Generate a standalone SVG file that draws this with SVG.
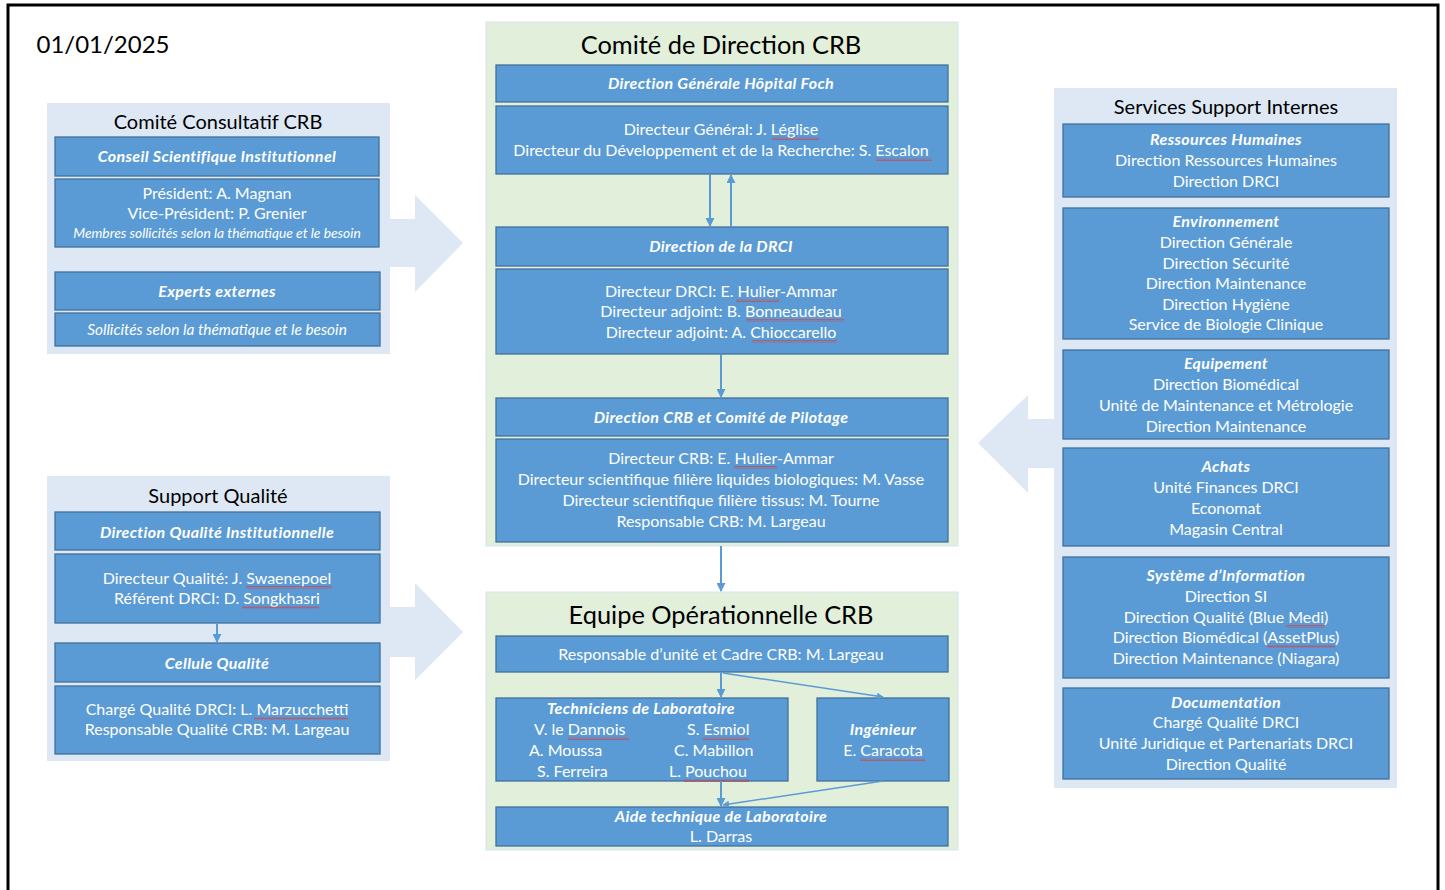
<svg xmlns="http://www.w3.org/2000/svg" width="1445" height="890" viewBox="0 0 1445 890">
<defs>
<style>
.frame{fill:none;stroke:#000;stroke-width:3}
.pb{fill:#DEE8F4}
.pg{fill:#E2EFDA;stroke:#D5E4F0;stroke-width:1}
.bigarrow{fill:#DEE8F4}
.box{fill:#5B9BD5;stroke:#41719C;stroke-width:1.3}
text{font-family:Lato,"Liberation Sans",sans-serif;text-anchor:middle}
.t{fill:#fff;font-size:16px}
.h{fill:#fff;font-size:16px;font-weight:bold;font-style:italic;letter-spacing:0.35px}
.i{fill:#fff;font-style:italic}
.ti{fill:#000;font-size:20px}
.tb{fill:#000;font-size:25.4px}
.s{text-anchor:start}
.c{stroke:#5B9BD5;stroke-width:2;fill:none}
.w{fill:url(#wavy)}
</style>
<marker id="ah" viewBox="0 0 10 10" refX="9" refY="5" markerWidth="4.5" markerHeight="4.5" orient="auto"><path d="M0,0 L10,5 L0,10 z" fill="#5B9BD5"/></marker>
<pattern id="wavy" width="4" height="3" patternUnits="userSpaceOnUse"><path d="M0,2.5 L1,0.5 L2,2.5 L3,0.5 L4,2.5" stroke="#D83A3A" fill="none" stroke-width="0.6"/></pattern>
</defs>
<rect x="8" y="5" width="1430" height="900" fill="#fff" class="frame"/>
<text x="103" y="53" style="font-size:24px;fill:#000">01/01/2025</text>

<g id="arrows-big">
<polygon class="bigarrow" points="385,219 415,219 415,195 463,243 415,292 415,267 385,267"/>
<polygon class="bigarrow" points="385,607 415,607 415,583 463,632 415,680 415,657 385,657"/>
<polygon class="bigarrow" points="1058,419 1028,419 1028,395 978,443 1028,493 1028,468 1058,468"/>
</g>

<g id="comite-consultatif">
<rect class="pb" x="47" y="103" width="343" height="251"/>
<text class="ti" x="218" y="129">Comité Consultatif CRB</text>
<rect class="box" x="55" y="137" width="324" height="39"/>
<text class="h" x="217" y="162">Conseil Scientifique Institutionnel</text>
<rect class="box" x="55" y="179" width="324" height="68"/>
<text class="t" x="217" y="199">Président: A. Magnan</text>
<text class="t" x="217" y="219">Vice-Président: P. Grenier</text>
<text class="i" x="217" y="238" style="font-size:13.8px">Membres sollicités selon la thématique et le besoin</text>
<rect class="box" x="55" y="272" width="325" height="38"/>
<text class="h" x="217" y="297">Experts externes</text>
<rect class="box" x="55" y="313" width="325" height="33"/>
<text class="i" x="217" y="335" style="font-size:15.4px">Sollicités selon la thématique et le besoin</text>
</g>

<g id="support-qualite">
<rect class="pb" x="47" y="476" width="343" height="285"/>
<text class="ti" x="218" y="503">Support Qualité</text>
<rect class="box" x="55" y="512" width="325" height="38"/>
<text class="h" x="217" y="538">Direction Qualité Institutionnelle</text>
<rect class="box" x="55" y="554" width="325" height="69"/>
<text class="t" x="217" y="584">Directeur Qualité: J. Swaenepoel</text>
<text class="t" x="217" y="604">Référent DRCI: D. Songkhasri</text>
<rect class="box" x="55" y="643" width="325" height="39"/>
<text class="h" x="217" y="669">Cellule Qualité</text>
<rect class="box" x="55" y="686" width="325" height="68"/>
<text class="t" x="217" y="715">Chargé Qualité DRCI: L. Marzucchetti</text>
<text class="t" x="217" y="735">Responsable Qualité CRB: M. Largeau</text>
<rect class="w" x="246" y="586" width="86" height="3"/>
<rect class="w" x="242" y="606" width="77" height="3"/>
<rect class="w" x="254" y="717" width="94" height="3"/>
</g>

<g id="comite-direction">
<rect class="pg" x="486" y="22" width="472" height="524"/>
<text class="tb" x="721" y="54">Comité de Direction CRB</text>
<rect class="box" x="496" y="65" width="452" height="37"/>
<text class="h" x="721" y="89">Direction Générale Hôpital Foch</text>
<rect class="box" x="496" y="106" width="452" height="68"/>
<text class="t" x="721" y="135">Directeur Général: J. Léglise</text>
<text class="t" x="721" y="156">Directeur du Développement et de la Recherche: S. Escalon</text>
<rect class="box" x="496" y="227" width="452" height="39"/>
<text class="h" x="721" y="252">Direction de la DRCI</text>
<rect class="box" x="496" y="269" width="452" height="85"/>
<text class="t" x="721" y="297">Directeur DRCI: E. Hulier-Ammar</text>
<text class="t" x="721" y="317">Directeur adjoint: B. Bonneaudeau</text>
<text class="t" x="721" y="338">Directeur adjoint: A. Chioccarello</text>
<rect class="box" x="496" y="398" width="452" height="38"/>
<text class="h" x="721" y="423">Direction CRB et Comité de Pilotage</text>
<rect class="box" x="496" y="439" width="452" height="103"/>
<text class="t" x="721" y="464">Directeur CRB: E. Hulier-Ammar</text>
<text class="t" x="721" y="485">Directeur scientifique filière liquides biologiques: M. Vasse</text>
<text class="t" x="721" y="506">Directeur scientifique filière tissus: M. Tourne</text>
<text class="t" x="721" y="527">Responsable CRB: M. Largeau</text>
<rect class="w" x="772" y="137" width="47" height="3"/>
<rect class="w" x="876" y="158" width="56" height="3"/>
<rect class="w" x="736" y="299" width="43" height="3"/>
<rect class="w" x="746" y="319" width="98" height="3"/>
<rect class="w" x="752" y="340" width="85" height="3"/>
<rect class="w" x="734" y="466" width="43" height="3"/>
</g>

<g id="equipe-operationnelle">
<rect class="pg" x="486" y="592" width="472" height="258"/>
<text class="tb" x="721" y="624">Equipe Opérationnelle CRB</text>
<rect class="box" x="496" y="636" width="452" height="36"/>
<text class="t" x="721" y="660">Responsable d’unité et Cadre CRB: M. Largeau</text>
<rect class="box" x="496" y="698" width="292" height="83"/>
<text class="h" x="641" y="714">Techniciens de Laboratoire</text>
<text class="t s" x="534" y="735">V. le Dannois</text>
<text class="t s" x="529" y="756">A. Moussa</text>
<text class="t s" x="537" y="777">S. Ferreira</text>
<text class="t s" x="687" y="735">S. Esmiol</text>
<text class="t s" x="674" y="756">C. Mabillon</text>
<text class="t s" x="669" y="777">L. Pouchou</text>
<rect class="box" x="817" y="698" width="132" height="83"/>
<text class="h" x="883" y="735">Ingénieur</text>
<text class="t" x="883" y="756">E. Caracota</text>
<rect class="box" x="496" y="807" width="452" height="39"/>
<text class="h" x="721" y="822">Aide technique de Laboratoire</text>
<text class="t" x="721" y="842">L. Darras</text>
<rect class="w" x="568" y="737" width="61" height="3"/>
<rect class="w" x="703" y="737" width="46" height="3"/>
<rect class="w" x="684" y="779" width="65" height="3"/>
<rect class="w" x="860" y="758" width="65" height="3"/>
</g>

<g id="services-support">
<rect class="pb" x="1054" y="88" width="343" height="700"/>
<text class="ti" x="1226" y="114">Services Support Internes</text>
<rect class="box" x="1063" y="124" width="326" height="73"/>
<text class="h" x="1226" y="145">Ressources Humaines</text>
<text class="t" x="1226" y="166">Direction Ressources Humaines</text>
<text class="t" x="1226" y="187">Direction DRCI</text>
<rect class="box" x="1063" y="208" width="326" height="131"/>
<text class="h" x="1226" y="227">Environnement</text>
<text class="t" x="1226" y="248">Direction Générale</text>
<text class="t" x="1226" y="269">Direction Sécurité</text>
<text class="t" x="1226" y="289">Direction Maintenance</text>
<text class="t" x="1226" y="310">Direction Hygiène</text>
<text class="t" x="1226" y="330">Service de Biologie Clinique</text>
<rect class="box" x="1063" y="350" width="326" height="89"/>
<text class="h" x="1226" y="369">Equipement</text>
<text class="t" x="1226" y="390">Direction Biomédical</text>
<text class="t" x="1226" y="411">Unité de Maintenance et Métrologie</text>
<text class="t" x="1226" y="432">Direction Maintenance</text>
<rect class="box" x="1063" y="448" width="326" height="98"/>
<text class="h" x="1226" y="472">Achats</text>
<text class="t" x="1226" y="493">Unité Finances DRCI</text>
<text class="t" x="1226" y="514">Economat</text>
<text class="t" x="1226" y="535">Magasin Central</text>
<rect class="box" x="1063" y="557" width="326" height="121"/>
<text class="h" x="1226" y="581">Système d’Information</text>
<text class="t" x="1226" y="602">Direction SI</text>
<text class="t" x="1226" y="623">Direction Qualité (Blue Medi)</text>
<text class="t" x="1226" y="643">Direction Biomédical (AssetPlus)</text>
<text class="t" x="1226" y="664">Direction Maintenance (Niagara)</text>
<rect class="box" x="1063" y="688" width="326" height="91"/>
<text class="h" x="1226" y="708">Documentation</text>
<text class="t" x="1226" y="728">Chargé Qualité DRCI</text>
<text class="t" x="1226" y="749">Unité Juridique et Partenariats DRCI</text>
<text class="t" x="1226" y="770">Direction Qualité</text>
<rect class="w" x="1286" y="625" width="39" height="3"/>
<rect class="w" x="1267" y="645" width="68" height="3"/>
</g>

<g id="connectors">
<line class="c" x1="710" y1="174" x2="710" y2="226" marker-end="url(#ah)"/>
<line class="c" x1="731" y1="227" x2="731" y2="175" marker-end="url(#ah)"/>
<line class="c" x1="721" y1="354" x2="721" y2="397" marker-end="url(#ah)"/>
<line class="c" x1="721" y1="546" x2="721" y2="591" marker-end="url(#ah)"/>
<line class="c" x1="217" y1="623" x2="217" y2="642" marker-end="url(#ah)"/>
<line class="c" x1="721" y1="672" x2="721" y2="697" marker-end="url(#ah)"/>
<line class="c" x1="723" y1="673" x2="883" y2="697" marker-end="url(#ah)" style="stroke-width:1.5"/>
<line class="c" x1="721" y1="781" x2="721" y2="806" marker-end="url(#ah)"/>
<line class="c" x1="883" y1="781" x2="723" y2="805" marker-end="url(#ah)" style="stroke-width:1.5"/>
</g>
</svg>
